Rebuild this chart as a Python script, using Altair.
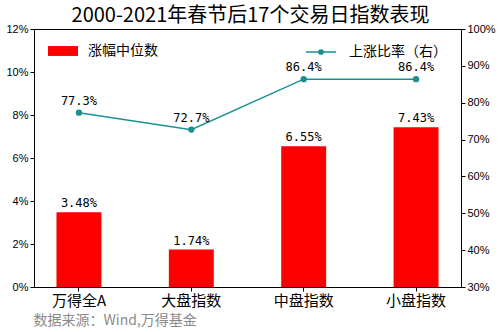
import altair as alt
import pandas as pd

categories = ["万得全A", "大盘指数", "中盘指数", "小盘指数"]
median_gain = [0.0348, 0.0174, 0.0655, 0.0743]
up_ratio = [0.773, 0.727, 0.864, 0.864]
bar_series = "涨幅中位数"
line_series = "上涨比率（右）"
title_text = "2000-2021年春节后17个交易日指数表现"
source_text = "数据来源：Wind,万得基金"

df = pd.DataFrame({
    "cat": categories,
    "gain": median_gain,
    "ratio": up_ratio,
    "s1": [bar_series] * len(categories),
    "s2": [line_series] * len(categories),
})

CJK = "Noto Sans CJK SC"
TEAL = "#1a9090"

x = alt.X("cat:N", sort=categories,
          scale=alt.Scale(paddingInner=0.6, paddingOuter=0.2),
          axis=alt.Axis(title=source_text, labelAngle=0, labelFont=CJK, labelFontSize=15,
                        labelColor="black", tickColor="black", domainColor="black",
                        tickSize=4, labelPadding=2,
                        titleFont=CJK, titleFontSize=14, titleColor="#8a8a8a",
                        titleFontWeight="normal", titleAnchor="start", titleAlign="left",
                        titleX=-1, titleY=33, titleBaseline="middle"))

base = alt.Chart(df)

bars = base.mark_bar(color="red").encode(
    x=x,
    y=alt.Y("gain:Q", scale=alt.Scale(domain=[0, 0.12]),
            axis=alt.Axis(format=".0%", values=[0, 0.02, 0.04, 0.06, 0.08, 0.10, 0.12],
                          title=None, labelFont="Liberation Sans", labelFontSize=11,
                          labelColor="black", tickColor="black", domainColor="black",
                          tickSize=4, labelPadding=2, grid=False)),
    color=alt.Color("s1:N", scale=alt.Scale(domain=[bar_series], range=["red"]),
                    legend=alt.Legend(title=None, orient="none", legendX=14, legendY=7,
                                      symbolType="M-1,-0.33H1V0.33H-1Z", symbolSize=900,
                                      symbolStrokeWidth=0,
                                      labelFont=CJK, labelFontSize=14, labelColor="black",
                                      labelOffset=10, padding=0)),
)
bar_text = base.mark_text(baseline="bottom", dy=-2, font="DejaVu Sans Mono",
                          fontSize=12, color="black").encode(
    x=x,
    y=alt.Y("gain:Q"),
    text=alt.Text("gain:Q", format=".2%"),
)
left = alt.layer(bars, bar_text)

yr = alt.Y("ratio:Q", scale=alt.Scale(domain=[0.3, 1.0]),
           axis=alt.Axis(format=".0%", orient="right",
                         values=[0.3, 0.4, 0.5, 0.6, 0.7, 0.8, 0.9, 1.0],
                         title=None, labelFont="Liberation Sans", labelFontSize=11,
                         labelColor="black", tickColor="black", domainColor="black",
                         tickSize=4, labelPadding=2, grid=False))
line = base.mark_line(strokeWidth=1.5).encode(
    x=x, y=yr,
    color=alt.Color("s2:N", scale=alt.Scale(domain=[line_series], range=[TEAL]),
                    legend=alt.Legend(title=None, orient="none", legendX=271, legendY=7,
                                      symbolType="M-1,0H1M0.14,0A0.14,0.14,0,1,1,-0.14,0A0.14,0.14,0,1,1,0.14,0Z",
                                      symbolSize=900, symbolStrokeColor=TEAL,
                                      symbolFillColor=TEAL, symbolStrokeWidth=1.5,
                                      labelFont=CJK, labelFontSize=14, labelColor="black",
                                      labelOffset=12, padding=0)),
)
points = base.mark_circle(size=40, opacity=1, color=TEAL).encode(x=x, y=yr)
line_text = base.mark_text(baseline="bottom", dy=-5, font="DejaVu Sans Mono",
                           fontSize=12, color="black").encode(
    x=x, y=yr,
    text=alt.Text("ratio:Q", format=".1%"),
)
right = alt.layer(line, points, line_text)

chart = alt.layer(left, right).resolve_scale(
    y="independent", color="independent"
).resolve_legend(color="independent").properties(
    width=427, height=258,
    title=alt.TitleParams(title_text, font=CJK, fontSize=20, fontWeight="normal",
                          color="black", anchor="middle", offset=-3, dx=3),
    autosize=alt.AutoSizeParams(type="none"),
    padding={"left": 34, "top": 29, "right": 39, "bottom": 45},
    background="white",
).configure_view(stroke="black", strokeWidth=1)

chart.save("out.html", embed_options={"renderer": "svg", "actions": False})
